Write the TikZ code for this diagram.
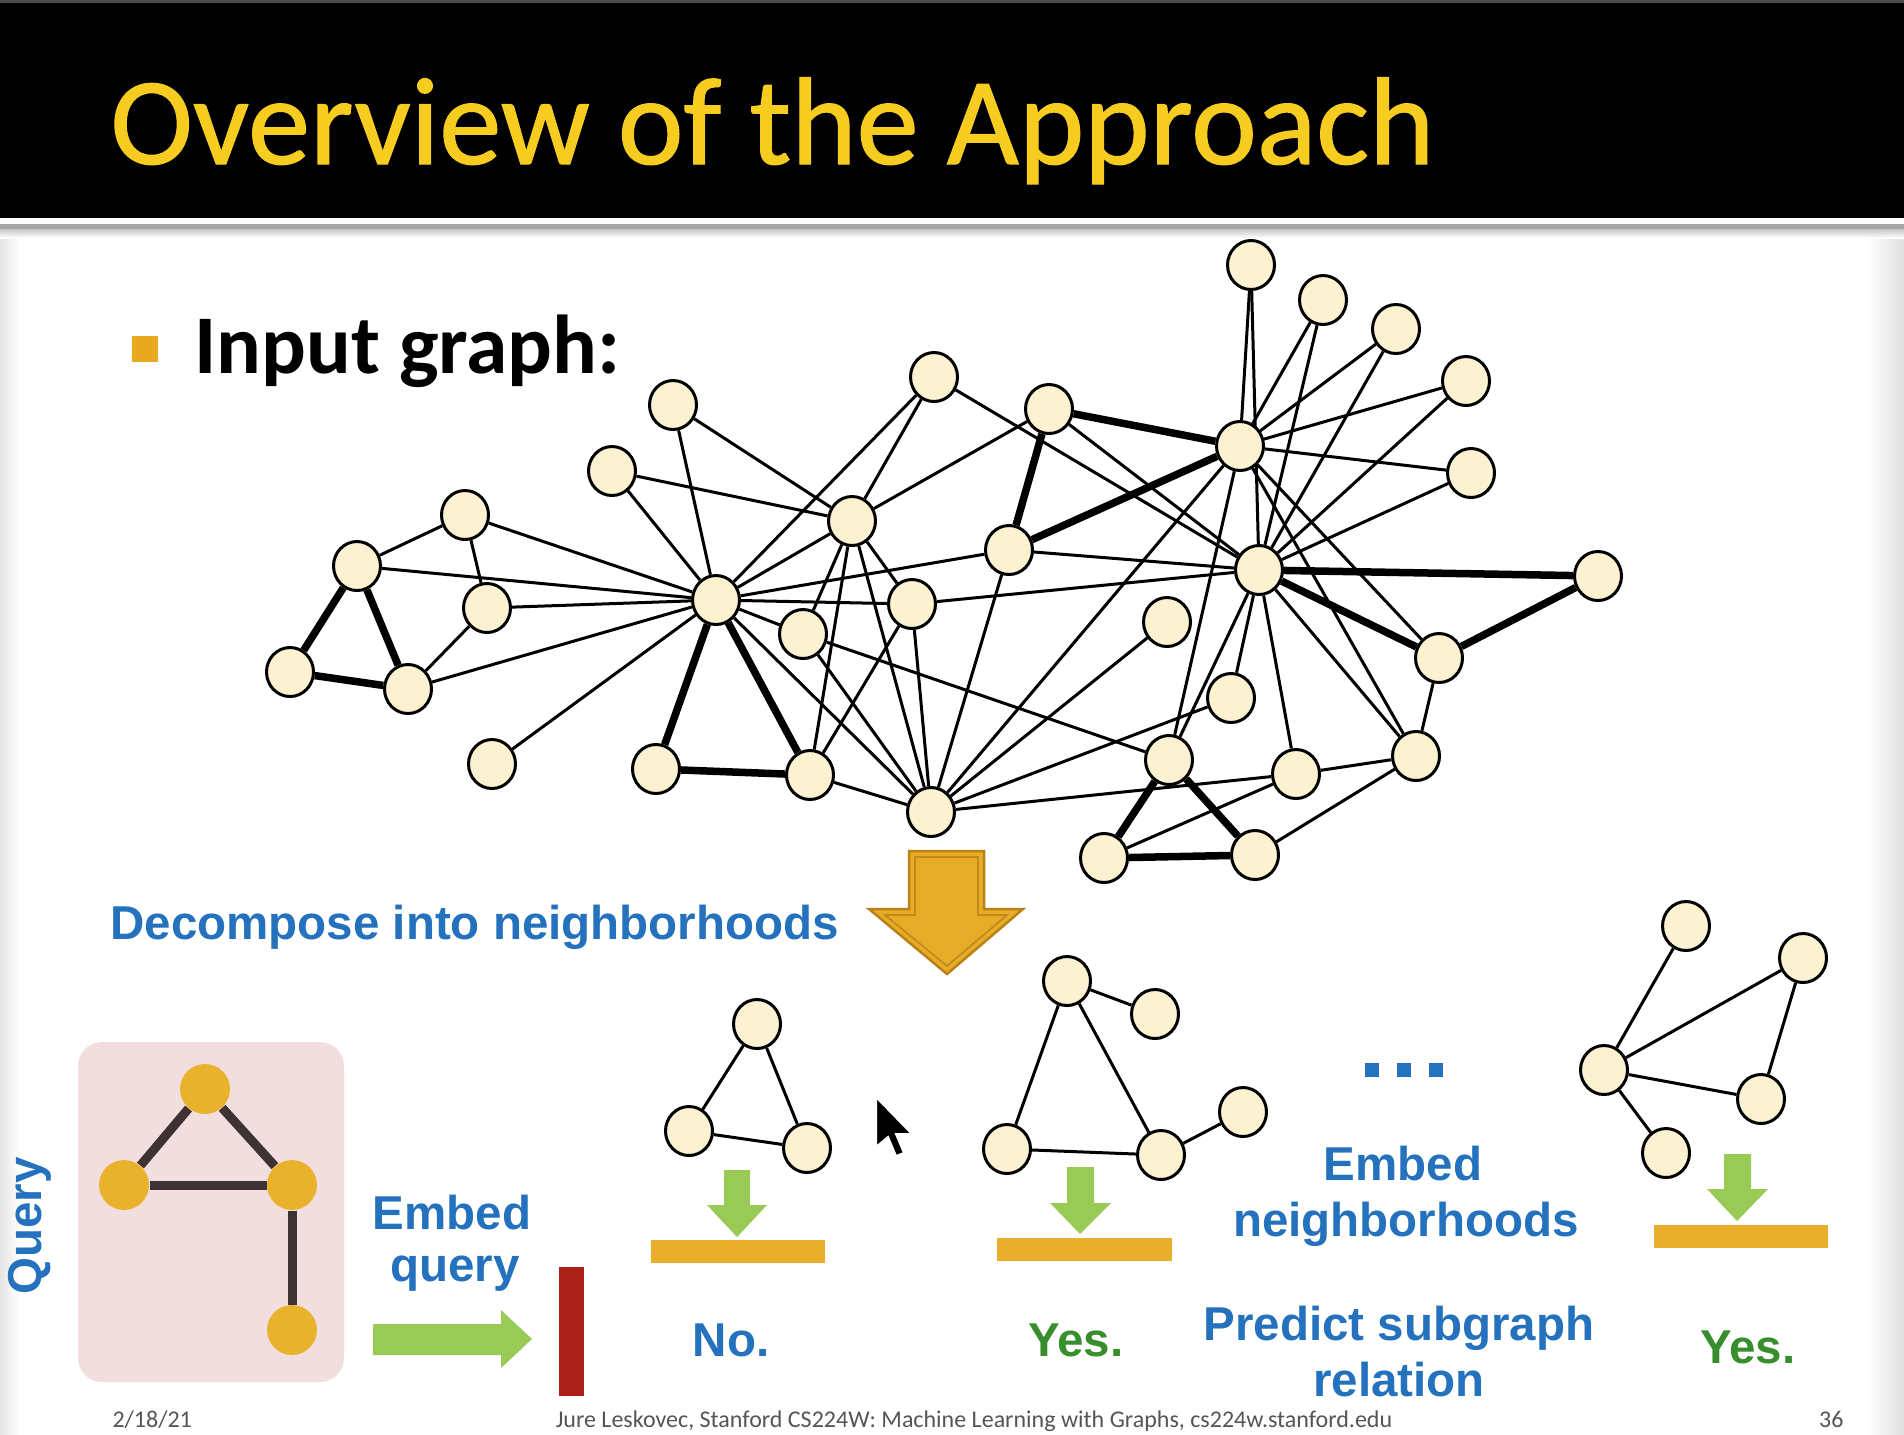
\documentclass[tikz,border=0pt]{standalone}
\usepackage{fontspec}
\setmainfont{Carlito}
\newfontfamily\titleface{Carlito}[FakeBold=0.9]
\newfontfamily\arialface{Liberation Sans}
\usetikzlibrary{shapes.geometric}

\definecolor{titleyellow}{RGB}{247,204,32}
\definecolor{bulletc}{RGB}{232,168,32}
\definecolor{nodefill}{RGB}{252,242,210}
\definecolor{qnode}{RGB}{233,178,44}
\definecolor{qedge}{RGB}{62,50,50}
\definecolor{qbox}{RGB}{242,222,222}
\definecolor{goldbar}{RGB}{232,174,44}
\definecolor{greenarrow}{RGB}{153,202,86}
\definecolor{redbar}{RGB}{171,33,24}
\definecolor{bigarrow}{RGB}{230,172,40}
\definecolor{bigarrowline}{RGB}{184,130,22}
\definecolor{labelblue}{RGB}{36,113,189}
\definecolor{labelgreen}{RGB}{56,142,44}
\definecolor{footgray}{RGB}{85,85,85}

\pgfdeclarelayer{slide}
\pgfdeclarelayer{edges}
\pgfsetlayers{slide,edges,main}

\tikzset{
  gnode/.style={ellipse, draw=black, fill=nodefill, line width=1.2pt,
    minimum width=18.8pt, minimum height=19.6pt, inner sep=0pt},
  qvertex/.style={circle, fill=qnode, minimum size=20pt, inner sep=0pt},
  thin edge/.style={line width=1.2pt},
  thick edge/.style={line width=3pt},
  qlink/.style={draw=qedge, line width=3.6pt},
  bluelabel/.style={text=labelblue, font=\arialface\bfseries\fontsize{19pt}{22pt}\selectfont, inner sep=0pt},
  greenlabel/.style={text=labelgreen, font=\arialface\bfseries\fontsize{19pt}{22pt}\selectfont, inner sep=0pt},
  footer/.style={text=footgray, font=\fontsize{9.6pt}{11pt}\selectfont, inner sep=0pt},
  downarrow/.style={fill=greenarrow},
  bar/.style={fill=goldbar}
}

\begin{document}
\begin{tikzpicture}[x=0.4pt,y=-0.4pt]
\useasboundingbox (0,0) rectangle (1904,1434);

% ---------- slide background, title bar and query panel ----------
\begin{pgfonlayer}{slide}
  \fill[white] (0,0) rectangle (1904,1434);
  \shade[left color=black!10, right color=white] (0,228) rectangle (20,1434);
  \shade[left color=white, right color=black!12] (1866,228) rectangle (1904,1434);
  \fill[black] (0,0) rectangle (1904,218);
  \fill[black!70] (0,0) rectangle (1904,3);
  \fill[black!35] (0,224) rectangle (1904,229);
  \shade[top color=black!22, bottom color=white] (0,229) rectangle (1904,238);
  \fill[qbox, rounded corners=24*0.4pt] (78,1042) rectangle (344,1382);
\end{pgfonlayer}

\node[anchor=base west, text=titleyellow, inner sep=0pt,
      font=\titleface\fontsize{49.8pt}{56pt}\selectfont] (title) at (110,164) {Overview of the Approach};

% ---------- bullet ----------
\fill[bulletc] (132,336) rectangle (158,362);
\node[anchor=base west, inner sep=0pt, font=\bfseries\fontsize{33.4pt}{38pt}\selectfont]
  (inputlabel) at (194,373) {Input graph:};

% ---------- input graph: vertices ----------
\node[gnode] (a1) at (1251,265) {};
\node[gnode] (a2) at (1323,300) {};
\node[gnode] (a3) at (1396,329) {};
\node[gnode] (a4) at (1466,381) {};
\node[gnode] (a5) at (1471,473) {};
\node[gnode] (h1) at (1240,446) {};
\node[gnode] (h2) at (1259,570) {};
\node[gnode] (r1) at (1598,576) {};
\node[gnode] (r2) at (1439,658) {};
\node[gnode] (m1) at (1049,409) {};
\node[gnode] (m2) at (934,377) {};
\node[gnode] (m3) at (1009,550) {};
\node[gnode] (c)  at (716,600) {};
\node[gnode] (p1) at (673,405) {};
\node[gnode] (p2) at (612,471) {};
\node[gnode] (d)  at (852,521) {};
\node[gnode] (e)  at (912,604) {};
\node[gnode] (f)  at (803,634) {};
\node[gnode] (l1) at (465,515) {};
\node[gnode] (l2) at (357,566) {};
\node[gnode] (l3) at (487,608) {};
\node[gnode] (l4) at (290,672) {};
\node[gnode] (l5) at (408,689) {};
\node[gnode] (l6) at (492,764) {};
\node[gnode] (b1) at (656,769) {};
\node[gnode] (b2) at (810,775) {};
\node[gnode] (b3) at (931,812) {};
\node[gnode] (g1) at (1167,622) {};
\node[gnode] (g2) at (1231,698) {};
\node[gnode] (g3) at (1169,760) {};
\node[gnode] (g4) at (1296,774) {};
\node[gnode] (g5) at (1416,756) {};
\node[gnode] (g6) at (1104,858) {};
\node[gnode] (g7) at (1255,855) {};

% ---------- input graph: edges ----------
\begin{pgfonlayer}{edges}
\foreach \u/\v in {l1/l2, l2/c, l1/l3, l1/c, l3/c, l3/l5, l5/c, l6/c, p1/c, p2/c, p1/d, p2/d,
                   c/m2, c/d, c/m3, c/e, c/f, c/b3,
                   d/m2, d/m1, d/e, d/f, d/b2, d/b3,
                   e/h2, e/b3, e/b2, f/b3, f/g3, b2/b3,
                   m2/h2, m1/h2, m3/h2, m3/b3,
                   h1/a1, h1/a2, h1/a3, h1/a4, h1/a5,
                   h2/a1, h2/a2, h2/a3, h2/a4, h2/a5,
                   h1/r2, h1/g5, h1/g3, h1/b3,
                   h2/g5, h2/g4, h2/g2, h2/g3,
                   b3/g1, b3/g2, b3/g4,
                   g4/g5, g4/g6, g5/g7, g5/r2}
  \draw[thin edge] (\u) -- (\v);
\foreach \u/\v in {l2/l4, l2/l5, l4/l5, c/b1, c/b2, b1/b2,
                   m1/h1, m1/m3, m3/h1, h2/r1, h2/r2, r1/r2,
                   g3/g6, g3/g7, g6/g7}
  \draw[thick edge] (\u) -- (\v);
\end{pgfonlayer}

% ---------- decompose arrow ----------
\node[bluelabel, anchor=base west] (decomp) at (110,939) {Decompose into neighborhoods};
\filldraw[fill=bigarrow, draw=bigarrowline, line width=1pt, line join=miter]
  (909,851) -- (984,851) -- (984,909) -- (1023,909) -- (947,974) -- (869,909) -- (909,909) -- cycle;
\draw[draw=bigarrowline!80!bigarrow, line width=0.7pt, line join=miter]
  (915,857) -- (978,857) -- (978,915) -- (1007,915) -- (947,966) -- (885,915) -- (915,915) -- cycle;

% ---------- query ----------
\node[bluelabel, rotate=90] (querylabel) at (30,1226) {Query};
\node[qvertex] (qt) at (205,1089) {};
\node[qvertex] (ql) at (124,1185) {};
\node[qvertex] (qr) at (292,1185) {};
\node[qvertex] (qb) at (292,1330) {};
\begin{pgfonlayer}{edges}
\draw[qlink] (qt) -- (ql);
\draw[qlink] (qt) -- (qr);
\draw[qlink] (ql) -- (qr);
\draw[qlink] (qr) -- (qb);
\end{pgfonlayer}

\node[bluelabel, anchor=base] (embedq1) at (452,1229) {Embed};
\node[bluelabel, anchor=base] (embedq2) at (455,1281) {query};
\fill[greenarrow] (373,1324) -- (501,1324) -- (501,1310) -- (532,1339)
  -- (501,1368) -- (501,1355) -- (373,1355) -- cycle;
\fill[redbar] (559,1267) rectangle (584,1396);

% ---------- neighborhood 1 ----------
\node[gnode] (n1a) at (757,1024) {};
\node[gnode] (n1b) at (689,1131) {};
\node[gnode] (n1c) at (807,1148) {};
\begin{pgfonlayer}{edges}
\draw[thin edge] (n1a) -- (n1b) -- (n1c) -- (n1a);
\end{pgfonlayer}
\fill[downarrow] (724,1170) -- (750,1170) -- (750,1205) -- (767,1205) -- (737,1237)
  -- (707,1205) -- (724,1205) -- cycle;
\fill[bar] (651,1240) rectangle (825,1263);
\node[bluelabel, anchor=base] (ans1) at (731,1356) {No.};

% ---------- neighborhood 2 ----------
\node[gnode] (n2a) at (1067,981) {};
\node[gnode] (n2b) at (1155,1014) {};
\node[gnode] (n2c) at (1007,1149) {};
\node[gnode] (n2d) at (1161,1155) {};
\node[gnode] (n2e) at (1243,1112) {};
\begin{pgfonlayer}{edges}
\draw[thin edge] (n2a) -- (n2b);
\draw[thin edge] (n2a) -- (n2c);
\draw[thin edge] (n2a) -- (n2d);
\draw[thin edge] (n2c) -- (n2d);
\draw[thin edge] (n2d) -- (n2e);
\end{pgfonlayer}
\fill[downarrow] (1067,1167) -- (1094,1167) -- (1094,1203) -- (1111,1203) -- (1080,1234)
  -- (1050,1203) -- (1067,1203) -- cycle;
\fill[bar] (997,1238) rectangle (1172,1261);
\node[greenlabel, anchor=base] (ans2) at (1076,1356) {Yes.};

% ---------- middle labels ----------
\foreach \i/\xx in {1/1365,2/1397,3/1429}
  \fill[labelblue] (\xx,1063) rectangle ++(14,14);
\node[bluelabel, anchor=base] (embedn1) at (1403,1180) {Embed};
\node[bluelabel, anchor=base] (embedn2) at (1406,1236) {neighborhoods};
\node[bluelabel, anchor=base] (pred1) at (1399,1340) {Predict subgraph};
\node[bluelabel, anchor=base] (pred2) at (1399,1396) {relation};

% ---------- neighborhood 3 ----------
\node[gnode] (n3a) at (1686,926) {};
\node[gnode] (n3b) at (1803,958) {};
\node[gnode] (n3c) at (1604,1070) {};
\node[gnode] (n3d) at (1761,1099) {};
\node[gnode] (n3e) at (1666,1153) {};
\begin{pgfonlayer}{edges}
\draw[thin edge] (n3c) -- (n3a);
\draw[thin edge] (n3c) -- (n3b);
\draw[thin edge] (n3b) -- (n3d);
\draw[thin edge] (n3c) -- (n3d);
\draw[thin edge] (n3c) -- (n3e);
\end{pgfonlayer}
\fill[downarrow] (1724,1154) -- (1751,1154) -- (1751,1189) -- (1768,1189) -- (1737,1221)
  -- (1707,1189) -- (1724,1189) -- cycle;
\fill[bar] (1654,1225) rectangle (1828,1248);
\node[greenlabel, anchor=base] (ans3) at (1748,1363) {Yes.};

% ---------- pointer ----------
\filldraw[fill=black, draw=white, line width=0.8pt, line join=miter]
  (876,1097) -- ++(0,50) -- ++(12,-10) -- ++(8,19) -- ++(8,-3) -- ++(-8,-19) -- ++(16,0) -- cycle;

% ---------- footer ----------
\node[footer, anchor=base west] (date) at (112,1427) {2/18/21};
\node[footer, anchor=base] (credit) at (974,1427) {Jure Leskovec, Stanford CS224W: Machine Learning with Graphs, cs224w.stanford.edu};
\node[footer, anchor=base east] (pageno) at (1844,1427) {36};
\end{tikzpicture}
\end{document}
